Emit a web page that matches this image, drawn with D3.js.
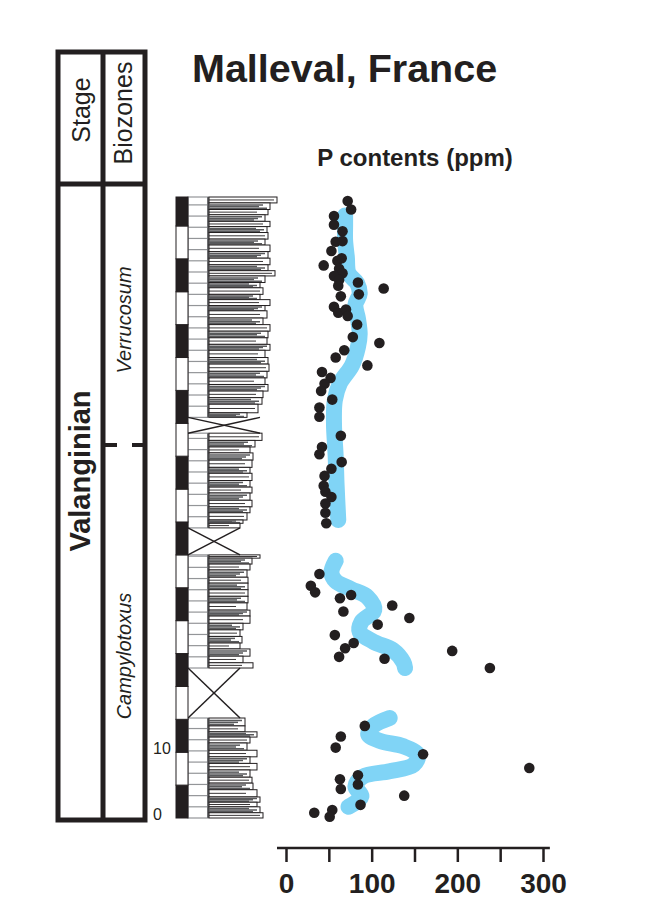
<!DOCTYPE html>
<meta charset="utf-8">
<style>
body { margin: 0; background: #fff; }
text { font-family: "Liberation Sans", Arial, sans-serif; fill: #231f20; }
</style>
<svg width="671" height="902"></svg>
<script src="https://cdn.jsdelivr.net/npm/d3@7/dist/d3.min.js"></script>
<script>

var ink = "#231f20",
    blue = "#80d4f6",
    grey = "#939598";

// P contents (ppm) against height in section (m)
var sampleHeight = [93.8, 92.5, 91.5, 90.2, 89.2, 87.6, 87.7, 86.2, 84.0, 84.7,
  85.1, 83.5, 82.8, 82.4, 81.8, 80.9, 81.4, 80.5, 79.6, 79.3,
  77.7, 76.8, 77.3, 76.3, 75.0, 73.1, 72.2, 71.1, 70.0, 68.8,
  67.8, 66.9, 66.0, 64.9, 63.6, 62.4, 61.0, 58.1, 56.4, 55.3,
  54.1, 53.1, 52.0, 50.5, 49.6, 48.8, 47.8, 46.4, 44.8, 37.1,
  35.3, 34.3, 33.4, 33.9, 31.4, 32.3, 30.4, 29.4, 27.8, 26.6,
  25.8, 24.5, 24.2, 25.4, 22.8, 14.0, 12.4, 10.7, 9.7, 7.6,
  6.5, 5.9, 5.1, 4.4, 3.4, 2.0, 0.8, 1.2, 0.2];
var samplePpm = [72, 76, 56, 56, 66, 58, 66, 53, 44, 60,
  65, 62, 66, 56, 62, 61, 84, 114, 85, 64,
  56, 61, 70, 72, 83, 78, 109, 68, 58, 95,
  42, 52, 45, 41, 54, 39, 39, 64, 42, 39,
  65, 53, 45, 44, 46, 53, 46, 46, 47, 39,
  29, 34, 63, 76, 67, 124, 144, 107, 57, 79,
  69, 62, 115, 194, 238, 92, 64, 58, 160, 284,
  84, 63, 84, 64, 138, 87, 33, 54, 51];

// smoothed trend, drawn in three pieces
var trendHeight = [
  [91.6, 90.1, 87.8, 85.3, 82.8, 81.3, 79.7, 78.0, 75.9, 73.6, 71.6, 68.8, 66.1, 63.5, 60.0, 54.9, 50.8, 45.3],
  [39.1, 37.3, 36.0, 34.8, 33.6, 31.6, 29.8, 28.3, 26.8, 25.5, 23.7, 22.8],
  [15.2, 14.0, 12.7, 11.7, 10.9, 9.6, 8.1, 7.1, 6.3, 4.8, 3.3, 1.7]
];
var trendPpm = [
  [69, 69, 69, 71, 73, 83, 86, 81, 84, 86, 84, 77, 63, 57, 56, 58, 59, 61],
  [58, 53, 58, 76, 95, 103, 88, 86, 102, 125, 137, 139],
  [121, 102, 96, 110, 137, 154, 149, 121, 90, 81, 88, 73]
];

// lithology: [top (m), profile width, L = limestone / M = marl]
var bedsU4 = [[94.4, 68, "L"], [93.5, 61, "M"], [92.5, 59, "L"], [91.7, 56, "M"], [90.7, 61, "L"],
  [89.9, 58, "M"], [89.0, 59, "L"], [88.0, 56, "M"], [87.1, 61, "L"], [86.1, 59, "M"],
  [85.1, 61, "L"], [84.1, 59, "M"], [83.2, 66, "L"], [82.4, 56, "M"], [81.4, 51, "M"],
  [80.6, 54, "L"], [79.6, 51, "M"], [78.8, 61, "L"], [77.9, 56, "M"], [77.1, 58, "L"],
  [76.0, 54, "M"], [75.0, 61, "L"], [74.0, 59, "M"], [73.0, 58, "L"], [72.0, 61, "M"],
  [71.1, 56, "L"], [70.0, 59, "M"], [69.0, 60, "L"], [67.9, 58, "M"], [66.9, 56, "L"],
  [65.9, 59, "M"], [64.9, 54, "L"], [63.9, 53, "M"], [62.9, 49, "L"], [61.6, 38, "M"]];
var bedsU3 = [[58.5, 53, "L"], [57.4, 46, "M"], [56.4, 41, "L"], [55.5, 44, "M"], [54.4, 43, "L"],
  [53.3, 41, "M"], [52.4, 43, "L"], [51.3, 41, "M"], [50.3, 43, "L"], [49.4, 41, "M"],
  [48.3, 43, "L"], [47.3, 41, "M"], [46.4, 38, "L"], [45.3, 34, "M"], [44.8, 31, "L"]];
var bedsU2 = [[40.0, 51, "L"], [39.5, 43, "M"], [38.6, 41, "L"], [37.7, 38, "M"], [36.6, 39, "L"],
  [35.7, 39, "M"], [34.7, 39, "L"], [33.7, 39, "M"], [32.7, 38, "L"], [31.6, 41, "M"],
  [30.7, 41, "L"], [29.6, 34, "M"], [28.6, 31, "L"], [27.6, 33, "M"], [26.6, 31, "L"],
  [25.7, 41, "M"], [24.6, 34, "L"], [23.6, 44, "L"]];
var bedsU1 = [[15.2, 36, "M"], [14.0, 36, "L"], [13.1, 48, "M"], [12.3, 41, "L"], [11.4, 38, "M"],
  [10.3, 48, "L"], [9.3, 41, "M"], [8.3, 48, "L"], [7.3, 41, "M"], [6.2, 43, "L"],
  [5.3, 44, "M"], [4.3, 48, "L"], [3.2, 51, "M"], [2.4, 48, "L"], [1.7, 51, "M"], [0.8, 54, "L"]];
var unitBase = [60.9, 44.1, 22.8, 0];
// covered intervals: [base, top, profile width]
var gaps = [[58.5, 60.9, 51], [40.0, 44.1, 31], [15.2, 22.8, 31]];

var sectionTop = 94.4;
var depthLabels = [0, 10];
var ppmTicks = [0, 50, 100, 150, 200, 250, 300];
var stageBoundary = 56.7;

var svg = d3.select("svg");

var y = d3.scaleLinear().domain([0, sectionTop]).range([818, 197]);
var x = d3.scaleLinear().domain([0, 300]).range([286, 543]);
var profX = d3.scaleLinear().domain([0, 70]).range([209, 279]);

// ---- titles
svg.append("text").attr("x", 192).attr("y", 82)
    .style("font-size", "39.5px").style("font-weight", "bold")
    .text("Malleval, France");
svg.append("text").attr("x", 415).attr("y", 166).attr("text-anchor", "middle")
    .style("font-size", "24px").style("font-weight", "bold")
    .text("P contents (ppm)");

// ---- stage / biozone table
var frame = svg.append("g").attr("stroke", ink).attr("stroke-width", 5).attr("fill", "none");
frame.append("rect").attr("x", 58).attr("y", 52).attr("width", 87).attr("height", 768);
frame.append("line").attr("x1", 103).attr("x2", 103).attr("y1", 52).attr("y2", 820);
frame.append("line").attr("x1", 58).attr("x2", 145).attr("y1", 184).attr("y2", 184);
svg.append("line").attr("x1", 105).attr("x2", 145)
    .attr("y1", y(stageBoundary)).attr("y2", y(stageBoundary))
    .attr("stroke", ink).attr("stroke-width", 4).attr("stroke-dasharray", "12,15");

function vtext(t, cx, cy, size, weight, style) {
  svg.append("text")
      .attr("transform", "translate(" + cx + "," + cy + ") rotate(-90)")
      .attr("text-anchor", "middle").attr("dy", "0.35em")
      .style("font-size", size + "px").style("font-weight", weight || "normal")
      .style("font-style", style || "normal")
      .text(t);
}
vtext("Stage", 81, 110, 25);
vtext("Biozones", 123, 113, 25);
vtext("Valanginian", 80, 471, 29, "bold");
vtext("Verrucosum", 124, 320, 20, "normal", "italic");
vtext("Campylotoxus", 124, 656, 20, "normal", "italic");

// ---- lithological log
var log = svg.append("g");
var units = [bedsU4, bedsU3, bedsU2, bedsU1];
var unitTop = units.map(function(b) { return b[0][0]; });

units.forEach(function(beds, u) {
  var base = unitBase[u];
  // sample boxes column
  log.append("rect").attr("x", 188).attr("width", 20)
      .attr("y", y(unitTop[u])).attr("height", y(base) - y(unitTop[u]))
      .attr("fill", "#fff").attr("stroke", grey).attr("stroke-width", 1.2);
  log.selectAll(null).data(d3.range(base + 1.7, unitTop[u], 1.7)).enter().append("line")
      .attr("x1", 188).attr("x2", 208).attr("y1", y).attr("y2", y)
      .attr("stroke", grey).attr("stroke-width", 1.2);
  log.append("line").attr("x1", 208).attr("x2", 208)
      .attr("y1", y(unitTop[u])).attr("y2", y(base))
      .attr("stroke", "#6d6e71").attr("stroke-width", 2);

  beds.forEach(function(b, i) {
    var top = b[0], bot = i < beds.length - 1 ? beds[i + 1][0] : base;
    var y0 = y(top), y1 = y(bot);
    log.append("rect").attr("x", profX(0)).attr("y", y0)
        .attr("width", profX(b[1]) - profX(0)).attr("height", y1 - y0)
        .attr("fill", "#fff").attr("stroke", ink).attr("stroke-width", 1);
    var inner = b[2] === "M" ? [0.3, 0.55, 0.8] : [0.5];
    inner.forEach(function(f, k) {
      var yy = y0 + (y1 - y0) * f;
      log.append("line").attr("x1", profX(0)).attr("x2", profX(b[1] - 3 - 4 * ((k + i) % 3)))
          .attr("y1", yy).attr("y2", yy)
          .attr("stroke", b[2] === "M" ? "#58595b" : ink)
          .attr("stroke-width", b[2] === "M" ? 1.5 : 0.9);
    });
  });
});

// covered intervals
gaps.forEach(function(g) {
  var l = 188, r = profX(g[2]);
  log.append("line").attr("x1", l).attr("y1", y(g[1])).attr("x2", r).attr("y2", y(g[0]))
      .attr("stroke", ink).attr("stroke-width", 1.5);
  log.append("line").attr("x1", l).attr("y1", y(g[0])).attr("x2", r).attr("y2", y(g[1]))
      .attr("stroke", ink).attr("stroke-width", 1.5);
});

// 5 m scale bar
log.selectAll(".blk").data(d3.range(0, sectionTop, 5)).enter().append("rect")
    .attr("x", 176).attr("width", 12)
    .attr("y", function(d) { return y(Math.min(d + 5, sectionTop)); })
    .attr("height", function(d) { return y(d) - y(Math.min(d + 5, sectionTop)); })
    .attr("fill", function(d, i) { return i % 2 ? "#fff" : ink; })
    .attr("stroke", ink).attr("stroke-width", 1);

svg.selectAll(".dlab").data(depthLabels).enter().append("text")
    .attr("x", 153).attr("y", function(d) { return y(d) - 4; }).attr("dy", "0.35em")
    .style("font-size", "16px")
    .text(function(d) { return d; });

// ---- P trend and samples
var line = d3.line()
    .x(function(d) { return x(d[1]); })
    .y(function(d) { return y(d[0]); })
    .curve(d3.curveCatmullRom.alpha(0.5));

svg.selectAll(".trend").data(trendHeight.map(function(h, i) { return d3.zip(h, trendPpm[i]); }))
  .enter().append("path")
    .attr("fill", "none").attr("stroke", blue).attr("stroke-width", 16)
    .attr("stroke-linecap", "round").attr("stroke-linejoin", "round")
    .attr("d", line);

svg.selectAll(".dot").data(d3.zip(sampleHeight, samplePpm)).enter().append("circle")
    .attr("cx", function(d) { return x(d[1]); })
    .attr("cy", function(d) { return y(d[0]); })
    .attr("r", 5.3).attr("fill", ink);

// ---- axis
var axis = svg.append("g").attr("transform", "translate(0,848)")
    .call(d3.axisBottom(x).tickValues(ppmTicks).tickSize(14).tickPadding(11)
      .tickFormat(function(d) { return d % 100 ? "" : d; }));
axis.select(".domain").remove();
axis.append("line").attr("x1", x(-10.5)).attr("x2", x(308)).attr("stroke", ink).attr("stroke-width", 2.5);
axis.selectAll(".tick line").attr("stroke", ink).attr("stroke-width", 2.5);
axis.selectAll(".tick text").attr("fill", ink)
    .style("font-size", "28px").style("font-weight", "bold")
    .style("font-family", "'Liberation Sans', Arial, sans-serif");

</script>
